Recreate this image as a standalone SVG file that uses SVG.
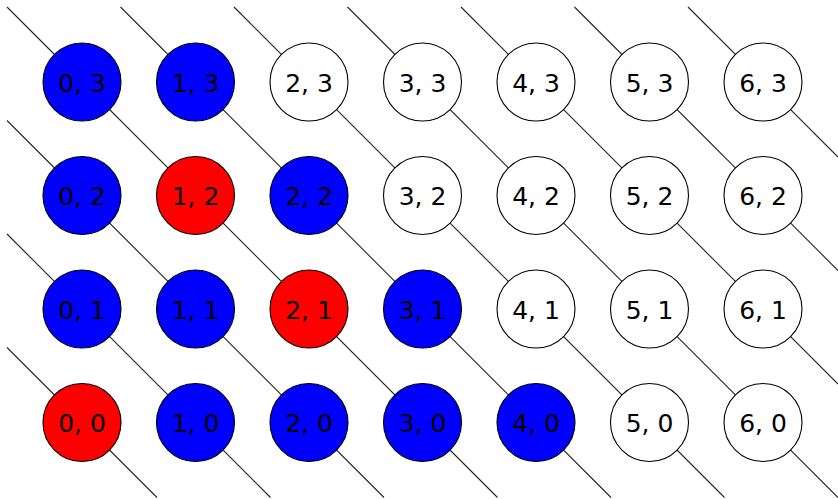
<svg xmlns="http://www.w3.org/2000/svg" width="838" height="499" viewBox="0 0 838 499">
<style>
.ln{stroke:#222;stroke-width:1.1;fill:none}
circle{stroke:#000;stroke-width:1.1}
.b{fill:#0000ff}.r{fill:#ff0000}.w{fill:#fff}
text{font-family:"DejaVu Sans","Liberation Sans",sans-serif;font-size:25px;text-anchor:middle;fill:#000}
</style>
<rect width="838" height="499" fill="#fff"/>
<g id="connectors">
<line class="ln" x1="7" y1="347.5" x2="157" y2="497.5"/>
<line class="ln" x1="7" y1="234" x2="270.5" y2="497.5"/>
<line class="ln" x1="7" y1="120.5" x2="384" y2="497.5"/>
<line class="ln" x1="7" y1="7" x2="497.5" y2="497.5"/>
<line class="ln" x1="120.5" y1="7" x2="611" y2="497.5"/>
<line class="ln" x1="234" y1="7" x2="724.5" y2="497.5"/>
<line class="ln" x1="347.5" y1="7" x2="838" y2="497.5"/>
<line class="ln" x1="461" y1="7" x2="838" y2="384"/>
<line class="ln" x1="574.5" y1="7" x2="838" y2="270.5"/>
<line class="ln" x1="688" y1="7" x2="838" y2="157"/>
</g>
<g id="n0_3"><circle class="b" cx="82" cy="82" r="39"/><text x="82" y="91.5">0, 3</text></g>
<g id="n1_3"><circle class="b" cx="195.5" cy="82" r="39"/><text x="195.5" y="91.5">1, 3</text></g>
<g id="n2_3"><circle class="w" cx="309" cy="82" r="39"/><text x="309" y="91.5">2, 3</text></g>
<g id="n3_3"><circle class="w" cx="422.5" cy="82" r="39"/><text x="422.5" y="91.5">3, 3</text></g>
<g id="n4_3"><circle class="w" cx="536" cy="82" r="39"/><text x="536" y="91.5">4, 3</text></g>
<g id="n5_3"><circle class="w" cx="649.5" cy="82" r="39"/><text x="649.5" y="91.5">5, 3</text></g>
<g id="n6_3"><circle class="w" cx="763" cy="82" r="39"/><text x="763" y="91.5">6, 3</text></g>

<g id="n0_2"><circle class="b" cx="82" cy="195.5" r="39"/><text x="82" y="205">0, 2</text></g>
<g id="n1_2"><circle class="r" cx="195.5" cy="195.5" r="39"/><text x="195.5" y="205">1, 2</text></g>
<g id="n2_2"><circle class="b" cx="309" cy="195.5" r="39"/><text x="309" y="205">2, 2</text></g>
<g id="n3_2"><circle class="w" cx="422.5" cy="195.5" r="39"/><text x="422.5" y="205">3, 2</text></g>
<g id="n4_2"><circle class="w" cx="536" cy="195.5" r="39"/><text x="536" y="205">4, 2</text></g>
<g id="n5_2"><circle class="w" cx="649.5" cy="195.5" r="39"/><text x="649.5" y="205">5, 2</text></g>
<g id="n6_2"><circle class="w" cx="763" cy="195.5" r="39"/><text x="763" y="205">6, 2</text></g>

<g id="n0_1"><circle class="b" cx="82" cy="309" r="39"/><text x="82" y="318.5">0, 1</text></g>
<g id="n1_1"><circle class="b" cx="195.5" cy="309" r="39"/><text x="195.5" y="318.5">1, 1</text></g>
<g id="n2_1"><circle class="r" cx="309" cy="309" r="39"/><text x="309" y="318.5">2, 1</text></g>
<g id="n3_1"><circle class="b" cx="422.5" cy="309" r="39"/><text x="422.5" y="318.5">3, 1</text></g>
<g id="n4_1"><circle class="w" cx="536" cy="309" r="39"/><text x="536" y="318.5">4, 1</text></g>
<g id="n5_1"><circle class="w" cx="649.5" cy="309" r="39"/><text x="649.5" y="318.5">5, 1</text></g>
<g id="n6_1"><circle class="w" cx="763" cy="309" r="39"/><text x="763" y="318.5">6, 1</text></g>

<g id="n0_0"><circle class="r" cx="82" cy="422.5" r="39"/><text x="82" y="432">0, 0</text></g>
<g id="n1_0"><circle class="b" cx="195.5" cy="422.5" r="39"/><text x="195.5" y="432">1, 0</text></g>
<g id="n2_0"><circle class="b" cx="309" cy="422.5" r="39"/><text x="309" y="432">2, 0</text></g>
<g id="n3_0"><circle class="b" cx="422.5" cy="422.5" r="39"/><text x="422.5" y="432">3, 0</text></g>
<g id="n4_0"><circle class="b" cx="536" cy="422.5" r="39"/><text x="536" y="432">4, 0</text></g>
<g id="n5_0"><circle class="w" cx="649.5" cy="422.5" r="39"/><text x="649.5" y="432">5, 0</text></g>
<g id="n6_0"><circle class="w" cx="763" cy="422.5" r="39"/><text x="763" y="432">6, 0</text></g>
</svg>
